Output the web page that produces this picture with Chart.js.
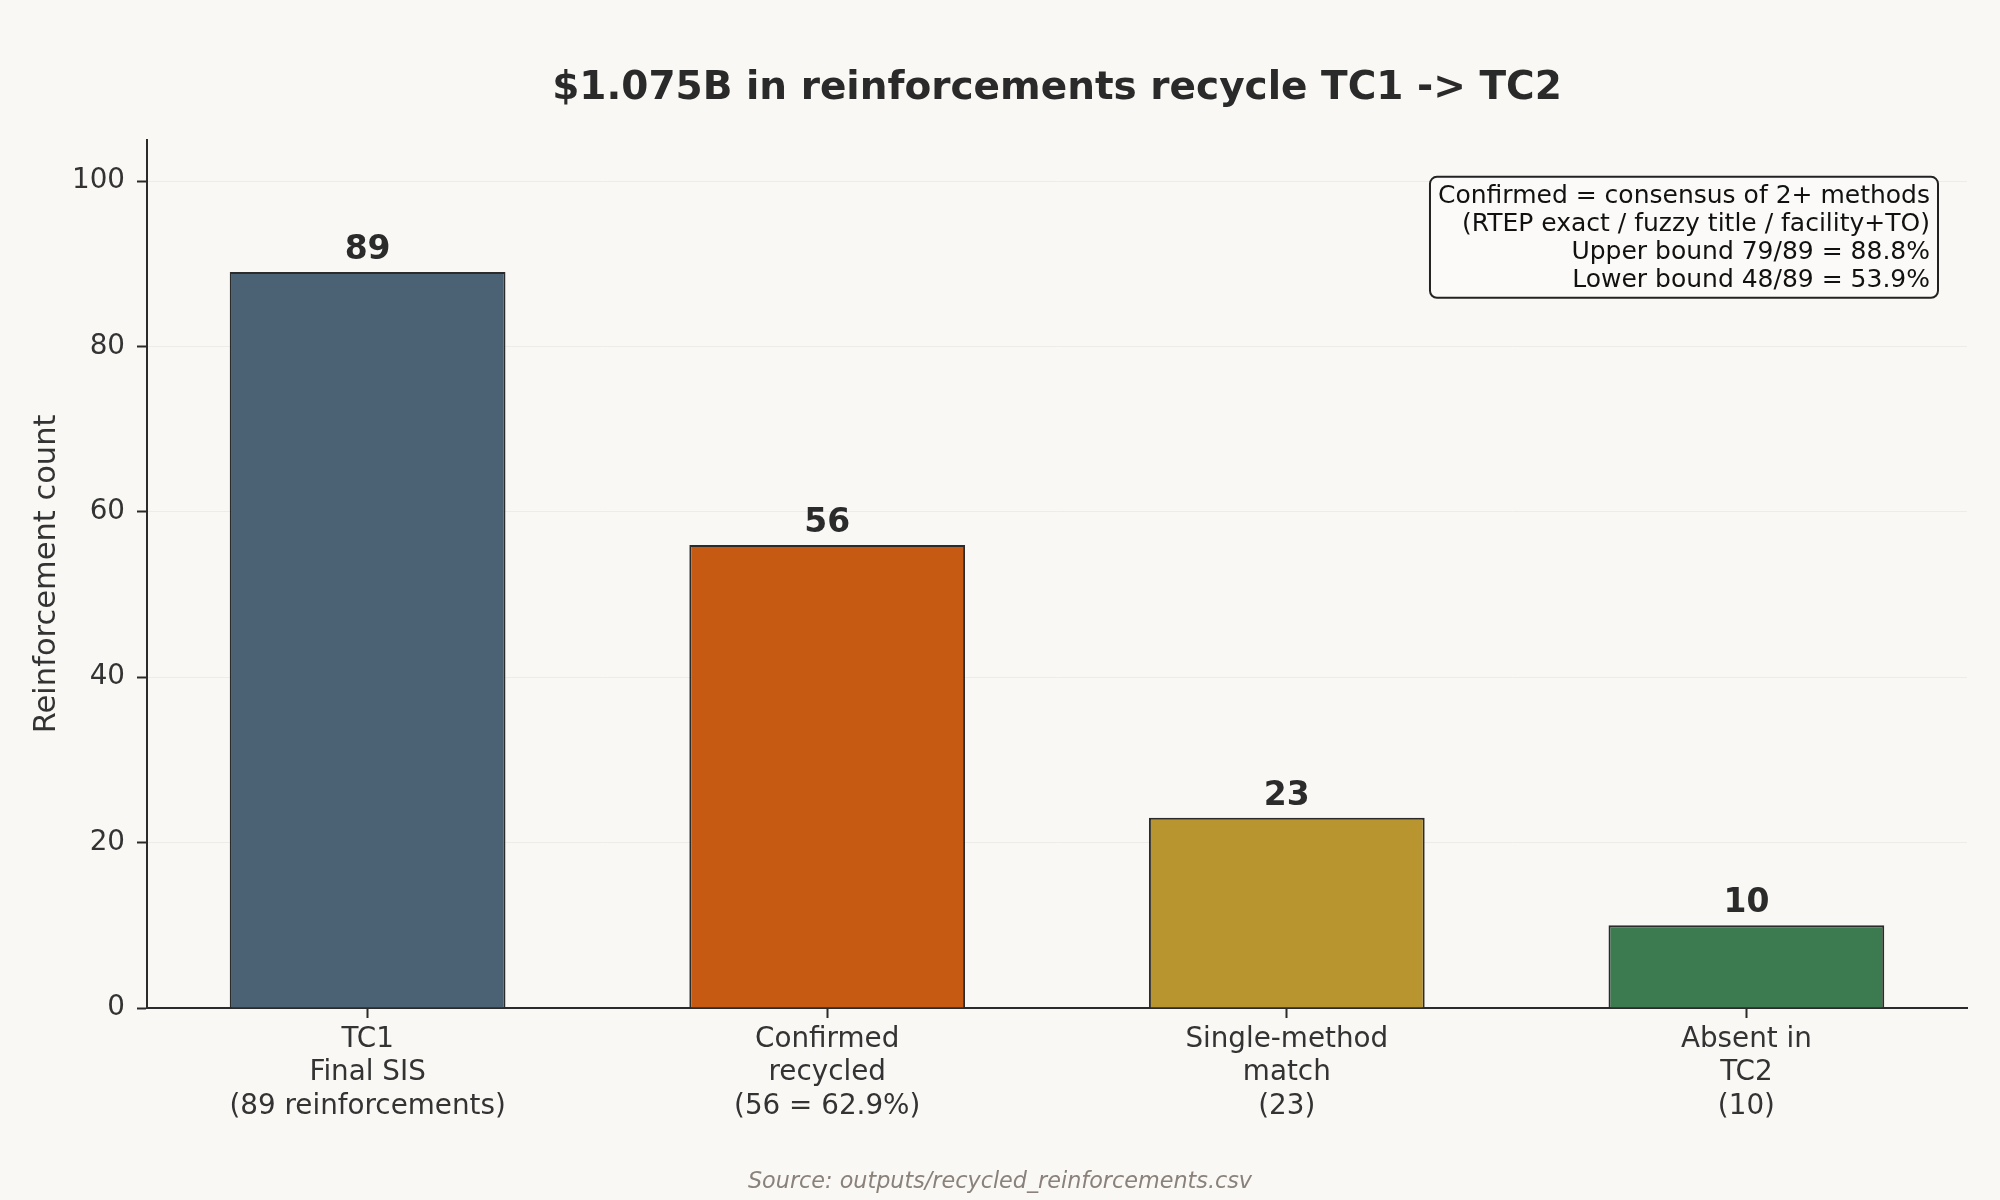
<!DOCTYPE html>
<html>
<head>
<meta charset="utf-8">
<script src="https://cdn.jsdelivr.net/npm/chart.js@4.4.1/dist/chart.umd.min.js"></script>
<style>
    html, body { margin: 0; padding: 0; background: #f9f8f5; }
    canvas { display: block; }
</style>
</head>
<body>
<canvas id="recycleChart" width="2000" height="1200"></canvas>
<script>
const categories = [
    ['TC1', 'Final SIS', '(89 reinforcements)'],
    ['Confirmed', 'recycled', '(56 = 62.9%)'],
    ['Single-method', 'match', '(23)'],
    ['Absent in', 'TC2', '(10)']
];
const counts = [89, 56, 23, 10];
const barColors = ['#4b6174', '#c65a13', '#b8952f', '#3c7a4f'];
const yTicks = [0, 20, 40, 60, 80, 100];
const noteLines = [
    'Confirmed = consensus of 2+ methods',
    '(RTEP exact / fuzzy title / facility+TO)',
    'Upper bound 79/89 = 88.8%',
    'Lower bound 48/89 = 53.9%'
];
const sourceNote = 'Source: outputs/recycled_reinforcements.csv';

const FONT = "'DejaVu Sans', sans-serif";
const INK = '#2b2b2b';

const backgroundPlugin = {
    id: 'background',
    beforeDraw: (chart) => {
        const ctx = chart.ctx;
        ctx.save();
        ctx.fillStyle = '#f9f8f5';
        ctx.fillRect(0, 0, chart.width, chart.height);
        ctx.restore();
    }
};

// bold count above each bar
const valueLabels = {
    id: 'valueLabels',
    afterDatasetsDraw: (chart) => {
        const ctx = chart.ctx;
        const meta = chart.getDatasetMeta(0);
        ctx.save();
        ctx.font = `bold 33px ${FONT}`;
        ctx.fillStyle = INK;
        ctx.textAlign = 'center';
        ctx.textBaseline = 'alphabetic';
        meta.data.forEach((bar, i) => {
            ctx.fillText(String(counts[i]), bar.x, bar.y - 13);
        });
        ctx.restore();
    }
};

// text box in the upper right + source line under the chart
const notesPlugin = {
    id: 'notes',
    afterDraw: (chart) => {
        const ctx = chart.ctx;
        const area = chart.chartArea;
        ctx.save();
        ctx.font = `25px ${FONT}`;
        const maxW = Math.max(...noteLines.map(t => ctx.measureText(t).width));
        const boxRight = area.right - 29;
        const boxTop = area.top + 37;
        const lineH = 28;
        const boxW = maxW + 16;
        const boxH = lineH * noteLines.length + 9;
        ctx.beginPath();
        ctx.roundRect(boxRight - boxW, boxTop, boxW, boxH, 7);
        ctx.fillStyle = '#fbfaf8';
        ctx.fill();
        ctx.lineWidth = 2;
        ctx.strokeStyle = '#222222';
        ctx.stroke();

        ctx.fillStyle = '#111111';
        ctx.textAlign = 'right';
        ctx.textBaseline = 'alphabetic';
        noteLines.forEach((t, i) => {
            ctx.fillText(t, boxRight - 8, boxTop + 26.5 + i * lineH);
        });

        ctx.font = `italic 22.3px ${FONT}`;
        ctx.fillStyle = '#8a817a';
        ctx.textAlign = 'center';
        ctx.fillText(sourceNote, chart.width / 2, 1188);
        ctx.restore();
    }
};

const ctx = document.getElementById('recycleChart').getContext('2d');

new Chart(ctx, {
    type: 'bar',
    data: {
        datasets: [{
            data: counts.map((c, i) => ({ x: i, y: c })),
            backgroundColor: barColors,
            borderColor: INK,
            borderWidth: 2,
            borderSkipped: 'start',
            barPercentage: 0.6,
            categoryPercentage: 1
        }]
    },
    options: {
        responsive: false,
        animation: false,
        devicePixelRatio: 1,
        layout: {
            padding: { top: 0, left: 0, right: 33, bottom: 42 }
        },
        scales: {
            x: {
                type: 'linear',
                min: -0.48,
                max: 3.48,
                offset: false,
                grid: {
                    display: true,
                    offset: false,
                    drawOnChartArea: false,
                    tickLength: 10,
                    tickColor: INK,
                    tickWidth: 2
                },
                border: { color: INK, width: 2 },
                ticks: {
                    color: '#333333',
                    font: { family: FONT, size: 27.8, lineHeight: 1.2 },
                    padding: 5,
                    maxRotation: 0,
                    autoSkip: false,
                    includeBounds: false,
                    callback: (value) => categories[value]
                },
                afterBuildTicks: (scale) => {
                    scale.ticks = categories.map((c, i) => ({ value: i }));
                },
                afterFit: (scale) => { scale.height = 150; }
            },
            y: {
                min: 0,
                max: 105,
                grid: {
                    color: '#edece8',
                    lineWidth: 1,
                    tickLength: 10,
                    tickColor: INK,
                    tickWidth: 2
                },
                border: { color: INK, width: 2 },
                ticks: {
                    color: '#333333',
                    font: { family: FONT, size: 27.8 },
                    padding: 12,
                    includeBounds: false
                },
                afterBuildTicks: (scale) => {
                    scale.ticks = yTicks.map(v => ({ value: v }));
                },
                afterFit: (scale) => { scale.width = 147; },
                title: {
                    display: true,
                    text: 'Reinforcement count',
                    color: '#333333',
                    font: { family: FONT, size: 30.5, lineHeight: 1.2 },
                    padding: { top: 29, bottom: 0 }
                }
            }
        },
        plugins: {
            legend: { display: false },
            tooltip: { enabled: false },
            title: {
                display: true,
                text: '$1.075B in reinforcements recycle TC1 -> TC2',
                color: '#2a2a2a',
                fullSize: false,
                font: { family: FONT, size: 39, weight: 'bold', lineHeight: 1.2 },
                padding: { top: 65, bottom: 28 }
            }
        }
    },
    plugins: [backgroundPlugin, valueLabels, notesPlugin]
});
</script>
</body>
</html>
